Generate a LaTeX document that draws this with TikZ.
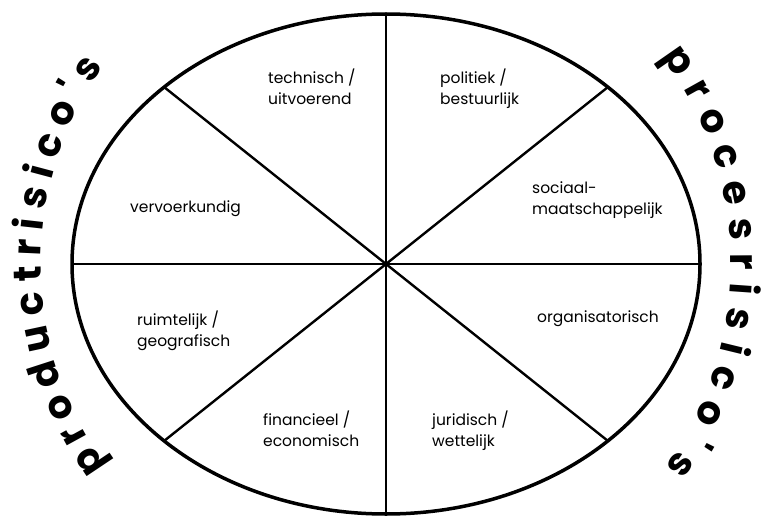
\documentclass[tikz,border=0pt]{standalone}
\usepackage{fontspec}
\setmainfont{Poppins}
\newfontfamily\bigfont{Poppins}
\usetikzlibrary{decorations.text}
\begin{document}
\begin{tikzpicture}[x=1pt,y=-1pt,
  rim/.style={line width=3.5pt},
  spoke/.style={line width=2.4pt},
  lbl/.style={anchor=north west, inner sep=0pt, align=left, font=\fontsize{15.5}{21}\selectfont},
  arctext/.style={decorate, decoration={text along path, text align=fit to path, text={|\bigfont\bfseries\fontsize{39}{39}\selectfont|#1}}}]
\useasboundingbox (0,0) rectangle (765,516);
\coordinate (c) at (386,264);
\coordinate (pN) at (386,14);
\coordinate (pS) at (386,514);
\coordinate (pW) at (72,264);
\coordinate (pE) at (700,264);
\coordinate (pNE) at (608,87);
\coordinate (pNW) at (164,87);
\coordinate (pSW) at (164,441);
\coordinate (pSE) at (608,441);
\foreach \p in {pN,pS,pW,pE,pNE,pNW,pSW,pSE} \draw[spoke] (c) -- (\p);
\draw[rim] (c) ellipse [x radius=314pt, y radius=250pt];

\node[lbl] (tech) at (268,69) {technisch /\\uitvoerend};
\node[lbl] (pol) at (440,69) {politiek /\\bestuurlijk};
\node[lbl] (verv) at (130,201) {vervoerkundig};
\node[lbl] (soc) at (532,182) {sociaal-\\maatschappelijk};
\node[lbl] (ruim) at (137,311) {ruimtelijk /\\geografisch};
\node[lbl] (org) at (537,311) {organisatorisch};
\node[lbl] (fin) at (263,411) {financieel /\\economisch};
\node[lbl] (jur) at (432,411) {juridisch /\\wettelijk};

\path[arctext={productrisico's}] (c) ++(216:345pt) arc[start angle=216, end angle=145, radius=345pt];
\path[arctext={procesrisico's}] (c) ++(37:345pt) arc[start angle=37, end angle=-36, radius=345pt];
\end{tikzpicture}
\end{document}
